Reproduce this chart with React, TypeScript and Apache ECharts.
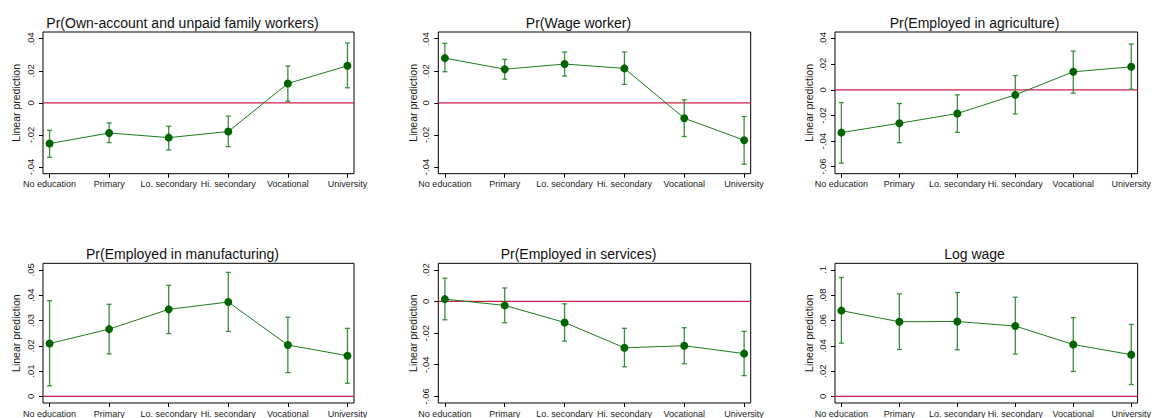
import React, { useEffect, useRef } from "react";
import * as echarts from "echarts";

const categories = ["No education", "Primary", "Lo. secondary", "Hi. secondary", "Vocational", "University"];

const titles = [
  "Pr(Own-account and unpaid family workers)",
  "Pr(Wage worker)",
  "Pr(Employed in agriculture)",
  "Pr(Employed in manufacturing)",
  "Pr(Employed in services)",
  "Log wage",
];

// Panel 1: own-account
const ownEst = [-0.0254, -0.0188, -0.0217, -0.0179, 0.0121, 0.0231];
const ownLo = [-0.034, -0.0248, -0.0294, -0.0273, 0.001, 0.0094];
const ownHi = [-0.0171, -0.0125, -0.0146, -0.0083, 0.0229, 0.0373];
// Panel 2: wage worker
const wageEst = [0.0279, 0.021, 0.0242, 0.0215, -0.0096, -0.0233];
const wageLo = [0.0194, 0.0148, 0.0167, 0.0115, -0.021, -0.0383];
const wageHi = [0.0371, 0.0271, 0.0317, 0.0317, 0.0019, -0.0085];
// Panel 3: agriculture
const agriEst = [-0.0334, -0.0261, -0.0185, -0.0039, 0.0141, 0.018];
const agriLo = [-0.0572, -0.0413, -0.0332, -0.0188, -0.0026, 0.0005];
const agriHi = [-0.0099, -0.0107, -0.0039, 0.0112, 0.0303, 0.0358];
// Panel 4: manufacturing
const manuEst = [0.0209, 0.0266, 0.0344, 0.0373, 0.0203, 0.0161];
const manuLo = [0.0042, 0.0168, 0.0248, 0.0257, 0.0094, 0.0052];
const manuHi = [0.0378, 0.0364, 0.0439, 0.049, 0.0313, 0.0269];
// Panel 5: services
const servEst = [0.00145, -0.0025, -0.0133, -0.0293, -0.028, -0.033];
const servLo = [-0.0116, -0.0135, -0.0251, -0.0413, -0.0394, -0.0469];
const servHi = [0.0147, 0.0085, -0.0015, -0.017, -0.0166, -0.0189];
// Panel 6: log wage
const logEst = [0.0678, 0.059, 0.0592, 0.0556, 0.041, 0.033];
const logLo = [0.0421, 0.0371, 0.0369, 0.0335, 0.0197, 0.0094];
const logHi = [0.094, 0.081, 0.0821, 0.0784, 0.0623, 0.0569];

// Y tick values
const ticksOwn = [-0.04, -0.02, 0, 0.02, 0.04];
const ticksWage = [-0.04, -0.02, 0, 0.02, 0.04];
const ticksAgri = [-0.06, -0.04, -0.02, 0, 0.02, 0.04];
const ticksManu = [0, 0.01, 0.02, 0.03, 0.04, 0.05];
const ticksServ = [-0.06, -0.04, -0.02, 0, 0.02];
const ticksLog = [0, 0.02, 0.04, 0.06, 0.08, 0.1];

// Y ranges
const rangeOwn = [-0.0442, 0.0442];
const rangeWage = [-0.0442, 0.0442];
const rangeAgri = [-0.0655, 0.0452];
const rangeManu = [-0.0026, 0.0526];
const rangeServ = [-0.0642, 0.0241];
const rangeLog = [-0.0052, 0.1052];

// X range (category index padding)
const xRange = [-0.11, 5.11];
const referenceY = 0;

const panels = [
  { est: ownEst, lo: ownLo, hi: ownHi, ticks: ticksOwn, range: rangeOwn },
  { est: wageEst, lo: wageLo, hi: wageHi, ticks: ticksWage, range: rangeWage },
  { est: agriEst, lo: agriLo, hi: agriHi, ticks: ticksAgri, range: rangeAgri },
  { est: manuEst, lo: manuLo, hi: manuHi, ticks: ticksManu, range: rangeManu },
  { est: servEst, lo: servLo, hi: servHi, ticks: ticksServ, range: rangeServ },
  { est: logEst, lo: logLo, hi: logHi, ticks: ticksLog, range: rangeLog },
];

const colLeft = [43, 438.3, 835];
const colWidth = [311, 312.4, 311];
const rowTop = [32, 263.3];
const gridH = 141.7;
const nameGaps = [22, 20, 21, 22, 20, 21];

const FONT = "'Liberation Sans', Arial, sans-serif";
const MARKER = "#006400";
const LINE = "#1e7b1e";
const BAR = "#3a8f3a";
const ZERO = "#cc1f4d";

const fmt = (v: number) => {
  const s = Number(v.toFixed(4)).toString();
  return s.replace(/^(-?)0\./, "$1.");
};

export default function App() {
  const ref = useRef<HTMLDivElement>(null);
  useEffect(() => {
    if (!ref.current) return;
    const chart = echarts.init(ref.current, undefined, { renderer: "svg" });
    const grid: any[] = [];
    const xAxis: any[] = [];
    const yAxis: any[] = [];
    const series: any[] = [];
    const title: any[] = [];
    const xVals = categories.map((_, k) => k);

    panels.forEach((p, i) => {
      const r = Math.floor(i / 3);
      const c = i % 3;
      const left = colLeft[c];
      const top = rowTop[r];
      const w = colWidth[c];
      grid.push({
        left,
        top,
        width: w,
        height: gridH,
        show: true,
        borderColor: "#000",
        borderWidth: 1,
        backgroundColor: "#fff",
      });
      title.push({
        text: titles[i],
        left: left + w / 2 - 16,
        top: top - 16,
        textAlign: "center",
        padding: 0,
        textStyle: { fontSize: 14, fontWeight: "normal", color: "#111", fontFamily: FONT },
      });
      xAxis.push({
        type: "value",
        gridIndex: i,
        min: xRange[0],
        max: xRange[1],
        splitLine: { show: false },
        axisLine: { show: false, onZero: false },
        axisTick: { show: true, length: 4, customValues: xVals, lineStyle: { color: "#000" } },
        axisLabel: {
          customValues: xVals,
          formatter: (v: number) => categories[Math.round(v)],
          fontSize: 9,
          margin: 6,
          color: "#1a1a1a",
          fontFamily: FONT,
        },
      });
      yAxis.push({
        type: "value",
        gridIndex: i,
        min: p.range[0],
        max: p.range[1],
        splitLine: { show: false },
        axisLine: { show: false, onZero: false },
        axisTick: { show: true, length: 4, customValues: p.ticks, lineStyle: { color: "#000" } },
        axisLabel: {
          customValues: p.ticks,
          formatter: (v: number) => fmt(v),
          rotate: 90,
          fontSize: 9.5,
          margin: 8,
          color: "#1a1a1a",
          fontFamily: FONT,
        },
        name: "Linear prediction",
        nameLocation: "middle",
        nameGap: nameGaps[i],
        nameTextStyle: { fontSize: 10.5, color: "#1a1a1a", fontFamily: FONT },
      });
      series.push({
        type: "line",
        xAxisIndex: i,
        yAxisIndex: i,
        data: [
          [xRange[0], referenceY],
          [xRange[1], referenceY],
        ],
        silent: true,
        symbol: "none",
        lineStyle: { color: ZERO, width: 1.2, type: "solid" },
        z: 1,
      });
      series.push({
        type: "custom",
        xAxisIndex: i,
        yAxisIndex: i,
        z: 2,
        data: p.lo.map((lo, k) => [k, lo, p.hi[k]]),
        encode: { x: 0, y: [1, 2] },
        renderItem: (params: any, api: any) => {
          const x = api.value(0);
          const a = api.coord([x, api.value(1)]);
          const b = api.coord([x, api.value(2)]);
          const cw = 2.5;
          const st = { stroke: BAR, lineWidth: 1.3 };
          return {
            type: "group",
            children: [
              { type: "line", shape: { x1: a[0], y1: a[1], x2: b[0], y2: b[1] }, style: st },
              { type: "line", shape: { x1: a[0] - cw, y1: a[1], x2: a[0] + cw, y2: a[1] }, style: st },
              { type: "line", shape: { x1: b[0] - cw, y1: b[1], x2: b[0] + cw, y2: b[1] }, style: st },
            ],
          };
        },
      });
      series.push({
        type: "line",
        xAxisIndex: i,
        yAxisIndex: i,
        z: 3,
        data: p.est.map((v, k) => [k, v]),
        symbol: "circle",
        symbolSize: 8,
        itemStyle: { color: MARKER },
        lineStyle: { color: LINE, width: 1 },
      });
    });

    chart.setOption({
      animation: false,
      backgroundColor: "#fff",
      textStyle: { fontFamily: FONT },
      title,
      grid,
      xAxis,
      yAxis,
      series,
    });
    return () => chart.dispose();
  }, []);
  return (
    <div
      ref={ref}
      style={{ position: "absolute", left: 0, top: 0, width: 1154, height: 418, background: "#fff" }}
    />
  );
}
